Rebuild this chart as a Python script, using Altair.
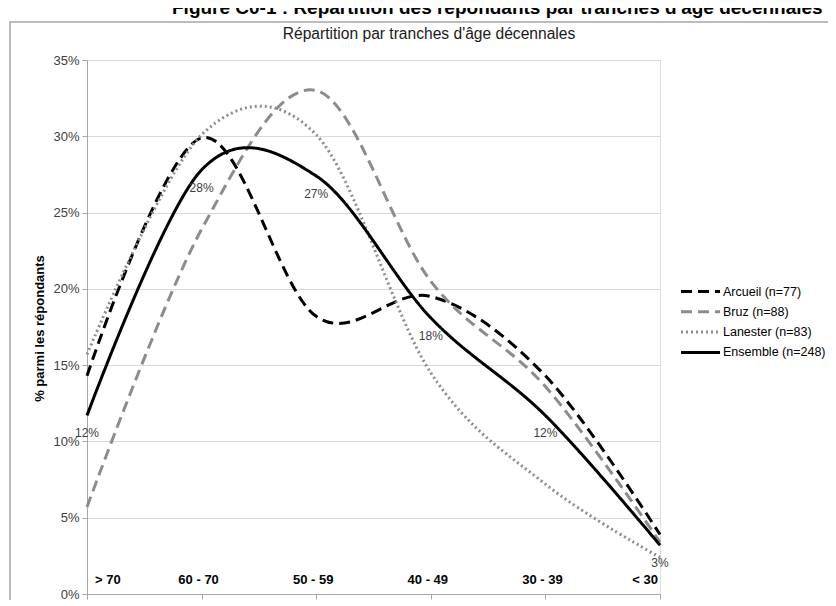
import altair as alt
import pandas as pd

categories = ["> 70", "60 - 70", "50 - 59", "40 - 49", "30 - 39", "< 30"]
series_names = ["Arcueil (n=77)", "Bruz (n=88)", "Lanester (n=83)", "Ensemble (n=248)"]
arcueil = [14.3, 29.9, 18.2, 19.5, 14.3, 3.9]
bruz = [5.7, 23.9, 33.0, 20.5, 13.6, 3.4]
lanester = [15.7, 30.1, 30.1, 14.5, 7.2, 2.4]
ensemble = [11.7, 27.8, 27.4, 18.1, 11.7, 3.2]
y_ticks = [0, 5, 10, 15, 20, 25, 30, 35]
fig_title = "Figure C0-1 : Répartition des répondants par tranches d'âge décennales"
inner_title = "Répartition par tranches d'âge décennales"
y_title = "% parmi les répondants"

rows = []
for name, vals in zip(series_names, [arcueil, bruz, lanester, ensemble]):
    for i, (c, v) in enumerate(zip(categories, vals)):
        rows.append({"cat": c, "serie": name, "v": v / 100.0, "i": i})
df = pd.DataFrame(rows)
cat_df = pd.DataFrame({"cat": categories, "i": list(range(len(categories)))})

W, H = 573, 534
SANS = "Liberation Sans"

x_enc = alt.X("cat:N", sort=categories,
              scale=alt.Scale(type="point", padding=0),
              axis=alt.Axis(labels=False, title=None, grid=False,
                            domainColor="#a6a6a6", tickColor="#a6a6a6", tickSize=5))
y_enc = alt.Y("v:Q", scale=alt.Scale(domain=[0, 0.35], nice=False, zero=True),
              axis=alt.Axis(values=[t / 100 for t in y_ticks], format=".0%",
                            title=y_title, grid=True, gridColor="#d9d9d9",
                            domainColor="#a6a6a6", tickColor="#a6a6a6", tickSize=5,
                            labelFont=SANS, labelFontSize=13, labelColor="#404040",
                            labelPadding=3,
                            titleFont=SANS, titleFontSize=13, titleFontWeight="bold",
                            titleColor="#000000", titleX=-48, titleY=268,
                            titleAlign="center", titleBaseline="middle"))

leg = dict(title=None, orient="none", legendX=607, legendY=225,
           symbolType="M-4,0H4", symbolSize=95,
           labelFont=SANS, labelFontSize=12.5, labelColor="#000000",
           rowPadding=7.3, labelOffset=16)

lines = alt.Chart(df).mark_line(interpolate="cardinal", strokeCap="butt").encode(
    x=x_enc, y=y_enc,
    color=alt.Color("serie:N", sort=series_names,
                    scale=alt.Scale(domain=series_names,
                                    range=["#000000", "#8c8c8c", "#8c8c8c", "#000000"]),
                    legend=alt.Legend(**leg)),
    strokeDash=alt.StrokeDash("serie:N", sort=series_names,
                              scale=alt.Scale(domain=series_names,
                                              range=[[11, 6], [11, 6], [2, 3], [1, 0]]),
                              legend=alt.Legend(**leg)),
    strokeWidth=alt.StrokeWidth("serie:N", sort=series_names,
                                scale=alt.Scale(domain=series_names, range=[3, 3, 2.5, 2]),
                                legend=alt.Legend(**leg)),
    order=alt.Order("i:Q"),
)

val_labels = alt.Chart(df).transform_filter(
    alt.datum.serie == series_names[-1]
).mark_text(dy=18, fontSize=12, font=SANS, color="#404040").encode(
    x=alt.X("cat:N", sort=categories), y="v:Q",
    text=alt.Text("v:Q", format=".0%"),
)

cat_base = alt.Chart(cat_df)
cat_style = dict(font=SANS, fontSize=13, fontWeight="bold", color="#000000", baseline="middle")
cat_first = cat_base.transform_filter(alt.datum.i == 0).mark_text(align="left", dx=8, **cat_style).encode(
    x=alt.X("cat:N", sort=categories), y=alt.value(H - 14), text="cat:N")
cat_mid = cat_base.transform_filter((alt.datum.i > 0) & (alt.datum.i < 5)).mark_text(
    align="center", dx=-3, **cat_style).encode(
    x=alt.X("cat:N", sort=categories), y=alt.value(H - 14), text="cat:N")
cat_last = cat_base.transform_filter(alt.datum.i == 5).mark_text(align="right", dx=-2, **cat_style).encode(
    x=alt.X("cat:N", sort=categories), y=alt.value(H - 14), text="cat:N")

one = pd.DataFrame({"t": [fig_title], "s": [inner_title]})
frame = alt.Chart(one).mark_rect(fillOpacity=0, stroke="#a6a6a6", strokeWidth=1.5).encode(
    x=alt.value(-77), x2=alt.value(W + 400), y=alt.value(-38), y2=alt.value(H + 200))
top_title = alt.Chart(one).mark_text(align="left", baseline="alphabetic", font=SANS, fontSize=19,
                                     fontWeight="bold", color="#000000").encode(
    x=alt.value(85), y=alt.value(-46), text="t:N")
sub_title = alt.Chart(one).mark_text(align="center", baseline="middle", font=SANS, fontSize=15.6,
                                     color="#1a1a1a").encode(
    x=alt.value(342), y=alt.value(-26), text="s:N")

chart = alt.layer(frame, lines, val_labels, cat_first, cat_mid, cat_last, top_title, sub_title).properties(
    width=W, height=H,
    padding={"left": 79, "top": 52, "right": 168, "bottom": 6},
    autosize=alt.AutoSizeParams(type="none"),
).configure_view(stroke=None).configure(background="white")

chart.save("out.html", embed_options={"renderer": "svg", "actions": False})
